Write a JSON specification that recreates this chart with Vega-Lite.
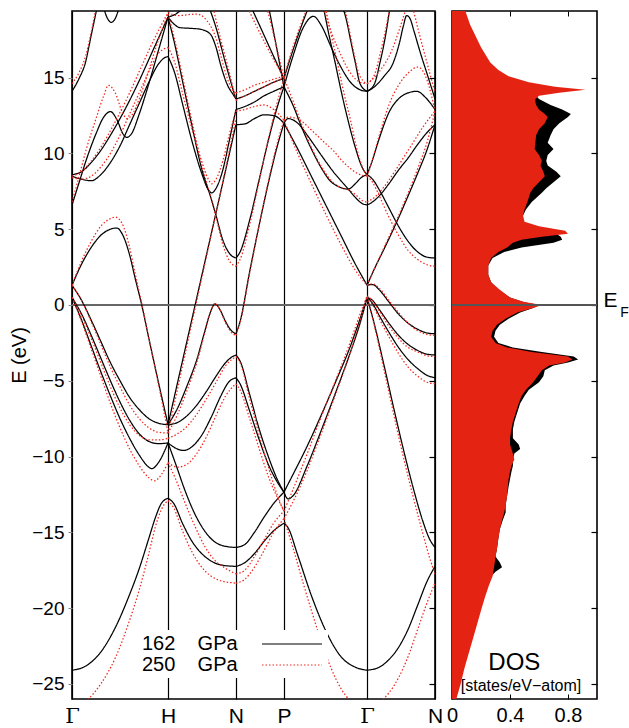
{
  "$schema": "https://vega.github.io/schema/vega-lite/v6.json",
  "background": "white",
  "padding": {"left": 8, "top": 9, "right": 0, "bottom": 0},
  "spacing": 1,
  "config": {
    "font": "Liberation Sans",
    "view": {"stroke": "black", "strokeWidth": 1.6},
    "axis": {"labelColor": "black", "titleColor": "black", "labelFont": "Liberation Sans", "titleFont": "Liberation Sans"}
  },
  "datasets": {
    "bands": [
      {"b": "A1", "p": "162 GPa", "k": [0,0.15,0.3,0.45,0.6,0.7,0.8,0.87,0.93,1], "e": [-24.1,-23.8,-22.9,-21.3,-19.1,-17.4,-15.4,-14.0,-13.1,-12.75]},
      {"b": "L1", "p": "162 GPa", "k": [0,0.1,0.2,0.3,0.4,0.5,0.6,0.7,0.8,0.9,1], "e": [1.3,0.3,-1.0,-2.4,-3.8,-5.0,-6.1,-6.9,-7.5,-7.8,-7.9]},
      {"b": "L2", "p": "162 GPa", "k": [0,0.1,0.2,0.3,0.4,0.5,0.6,0.7,0.8,0.9,1], "e": [0.5,-0.6,-2.0,-3.5,-5.0,-6.4,-7.6,-8.5,-9.0,-9.15,-9.1]},
      {"b": "L3", "p": "162 GPa", "k": [0,0.1,0.2,0.3,0.4,0.5,0.6,0.7,0.8,0.83,0.9,1], "e": [0.5,-1.0,-2.7,-4.4,-6.0,-7.5,-8.8,-9.9,-10.7,-10.8,-10.4,-9.1]},
      {"b": "W", "p": "162 GPa", "k": [0,0.1,0.2,0.3,0.4,0.465,0.53,0.6,0.66,0.726,0.8,0.9,1], "e": [1.3,2.7,3.8,4.6,5.0,5.08,4.6,3.3,1.7,0,-2.2,-5.1,-7.9]},
      {"b": "P", "p": "162 GPa", "k": [0,0.07,0.15,0.25,0.33,0.4,0.47,0.53,0.57,0.62,0.7,0.8,0.9,1], "e": [6.6,8.0,9.6,11.3,12.4,12.76,12.2,11.3,11.06,11.3,12.6,14.6,16.8,19.0]},
      {"b": "Q", "p": "162 GPa", "k": [0,0.1,0.2,0.3,0.4,0.5,0.6,0.7,0.8,0.9,0.96,1], "e": [8.5,8.3,8.2,8.6,9.4,10.5,11.9,13.3,14.7,15.9,16.3,16.4]},
      {"b": "R", "p": "162 GPa", "k": [0,0.1,0.2,0.3,0.4,0.5,0.6,0.7,0.8,0.9,1], "e": [8.6,8.8,9.4,10.2,11.2,12.3,13.5,14.8,16.2,17.6,19.0]},
      {"b": "S", "p": "162 GPa", "k": [0,0.07,0.14,0.2,0.26], "e": [14.1,14.9,16.0,17.8,19.6]},
      {"b": "T", "p": "162 GPa", "k": [0.33,0.37,0.41,0.45,0.49], "e": [19.6,18.9,18.65,18.9,19.6]},
      {"b": "HA", "p": "162 GPa", "k": [1,1.06,1.15,1.25,1.35,1.45,1.55,1.707], "e": [-12.75,-13.1,-14.4,-15.6,-16.4,-16.9,-17.15,-17.25]},
      {"b": "HB", "p": "162 GPa", "k": [1,1.08,1.18,1.28,1.38,1.48,1.58,1.707], "e": [-9.1,-10.5,-12.3,-13.8,-14.9,-15.6,-15.9,-16.0]},
      {"b": "HC", "p": "162 GPa", "k": [1,1.08,1.16,1.25,1.35,1.45,1.55,1.63,1.707], "e": [-9.1,-9.45,-9.6,-9.35,-8.6,-7.4,-6.0,-5.1,-4.8]},
      {"b": "HD", "p": "162 GPa", "k": [1,1.1,1.2,1.3,1.4,1.5,1.6,1.66,1.707], "e": [-7.9,-7.75,-7.3,-6.6,-5.7,-4.7,-3.8,-3.45,-3.3]},
      {"b": "HK", "p": "162 GPa", "k": [1,1.1,1.2,1.3,1.38,1.44,1.49,1.54,1.6,1.66,1.707], "e": [-7.9,-6.8,-5.3,-3.6,-1.8,-0.5,0.07,-0.3,-1.1,-1.7,-1.9]},
      {"b": "HE", "p": "162 GPa", "k": [1,1.2,1.4,1.6,1.707], "e": [-7.9,-2.3,3.3,8.9,11.9]},
      {"b": "HF", "p": "162 GPa", "k": [1,1.07,1.15,1.25,1.35,1.45,1.5,1.57,1.64,1.707], "e": [19.0,17.2,14.8,11.8,9.0,7.0,5.9,4.3,3.4,3.1]},
      {"b": "HG", "p": "162 GPa", "k": [1,1.07,1.15,1.25,1.35,1.42,1.455,1.5,1.57,1.64,1.707], "e": [16.4,15.3,13.3,10.8,8.7,7.6,7.4,7.7,8.9,10.9,12.9]},
      {"b": "HU1", "p": "162 GPa", "k": [1,1.06,1.125,1.25,1.333,1.437,1.5,1.55,1.62,1.677,1.707], "e": [19.0,18.55,18.3,18.25,18.2,17.9,17.0,15.8,14.5,13.9,13.6]},
      {"b": "HU3", "p": "162 GPa", "k": [1.43,1.5,1.58,1.65,1.707], "e": [19.6,18.3,16.4,14.8,13.6]},
      {"b": "HU4", "p": "162 GPa", "k": [1,1.08,1.16], "e": [19.0,19.2,19.6]},
      {"b": "NP1", "p": "162 GPa", "k": [1.707,1.8,1.9,2.0,2.1,2.207], "e": [-16.0,-15.8,-15.0,-14.0,-13.1,-12.35]},
      {"b": "NP2", "p": "162 GPa", "k": [1.707,1.8,1.9,2.0,2.1,2.207], "e": [-17.25,-17.0,-16.4,-15.6,-14.9,-14.4]},
      {"b": "NP3", "p": "162 GPa", "k": [1.707,1.75,1.85,1.95,2.05,2.13,2.207], "e": [-3.3,-3.7,-5.9,-8.2,-10.1,-11.4,-12.35]},
      {"b": "NP4", "p": "162 GPa", "k": [1.707,1.75,1.85,1.95,2.05,2.13,2.207], "e": [-4.8,-5.2,-7.0,-8.9,-10.6,-11.6,-12.35]},
      {"b": "NP5", "p": "162 GPa", "k": [1.707,1.75,1.85,1.95,2.05,2.13,2.207], "e": [-1.9,-1.1,2.2,5.3,8.2,10.3,12.0]},
      {"b": "NP6", "p": "162 GPa", "k": [1.707,1.75,1.85,1.95,2.05,2.13,2.207], "e": [3.1,3.5,5.6,8.3,11.0,12.9,14.4]},
      {"b": "NP7", "p": "162 GPa", "k": [1.707,1.8,1.9,2.0,2.1,2.207], "e": [11.9,11.95,12.3,12.55,12.5,12.0]},
      {"b": "NP8", "p": "162 GPa", "k": [1.707,1.8,1.9,2.0,2.1,2.207], "e": [12.9,13.1,13.4,13.8,14.1,14.4]},
      {"b": "NP9", "p": "162 GPa", "k": [1.707,1.8,1.9,2.0,2.1,2.207], "e": [13.6,13.8,14.1,14.4,14.7,14.95]},
      {"b": "NP10", "p": "162 GPa", "k": [1.87,2.0,2.1,2.207], "e": [19.6,17.8,16.4,14.95]},
      {"b": "NP11", "p": "162 GPa", "k": [2.05,2.13,2.207], "e": [19.6,17.0,14.4]},
      {"b": "PG1", "p": "162 GPa", "k": [2.207,2.25,2.35,2.45,2.55,2.65,2.72,2.8,2.877,2.95,3.02,3.073], "e": [12.0,12.3,12.0,11.2,10.3,9.4,8.8,8.2,7.65,7.1,6.7,6.6]},
      {"b": "PG2", "p": "162 GPa", "k": [2.207,2.3,2.4,2.5,2.6,2.687,2.78,2.877,2.95,3.02,3.073], "e": [14.4,13.2,11.6,10.2,9.0,8.2,7.8,7.65,8.0,8.45,8.6]},
      {"b": "PG3", "p": "162 GPa", "k": [2.62,2.68,2.74,2.8,2.87,2.95,3.02,3.073], "e": [19.6,17.7,16.0,14.2,12.3,10.4,9.1,8.6]},
      {"b": "PGs", "p": "162 GPa", "k": [2.207,2.35,2.5,2.65,2.8,2.95,3.073], "e": [12.0,10.3,8.4,6.5,4.6,2.7,1.3]},
      {"b": "M", "p": "162 GPa", "k": [2.207,2.3,2.4,2.47,2.513,2.6,2.7,2.8,2.9,3.0,3.073], "e": [14.4,16.4,18.2,18.9,19.05,18.4,17.0,15.7,14.7,14.2,14.1]},
      {"b": "M2", "p": "162 GPa", "k": [2.207,2.3,2.4,2.46], "e": [14.95,16.8,18.6,19.6]},
      {"b": "M3", "p": "162 GPa", "k": [2.82,2.85,2.9,2.95,3.0,3.073], "e": [19.6,19.0,17.5,16.0,14.6,14.1]},
      {"b": "PGL1", "p": "162 GPa", "k": [2.207,2.3,2.45,2.6,2.75,2.9,3.0,3.073], "e": [-12.35,-11.2,-9.3,-7.2,-5.0,-2.7,-0.9,0.5]},
      {"b": "PGL2", "p": "162 GPa", "k": [2.207,2.25,2.3,2.45,2.6,2.75,2.9,3.0,3.073], "e": [-12.35,-12.8,-12.6,-10.6,-8.2,-5.7,-3.1,-1.2,0.5]},
      {"b": "PGA", "p": "162 GPa", "k": [2.207,2.25,2.35,2.5,2.65,2.8,2.95,3.073], "e": [-14.4,-14.7,-16.5,-19.3,-21.6,-23.2,-23.9,-24.1]},
      {"b": "GNA", "p": "162 GPa", "k": [3.073,3.2,3.3,3.4,3.5,3.6,3.7,3.78], "e": [-24.1,-23.9,-23.4,-22.6,-21.4,-19.8,-18.2,-17.25]},
      {"b": "GNS", "p": "162 GPa", "k": [3.073,3.15,3.25,3.35,3.45,3.55,3.65,3.72,3.78], "e": [0.5,-1.3,-4.0,-6.8,-9.5,-12.0,-14.2,-15.4,-16.0]},
      {"b": "GN1", "p": "162 GPa", "k": [3.073,3.13,3.2,3.3,3.4,3.5,3.6,3.7,3.78], "e": [1.3,1.35,1.0,0.2,-0.6,-1.2,-1.6,-1.85,-1.9]},
      {"b": "GN2", "p": "162 GPa", "k": [3.073,3.13,3.2,3.3,3.4,3.5,3.6,3.7,3.78], "e": [0.5,0.3,-0.3,-1.2,-2.0,-2.6,-3.0,-3.25,-3.3]},
      {"b": "GN3", "p": "162 GPa", "k": [3.073,3.13,3.2,3.3,3.4,3.5,3.6,3.7,3.78], "e": [0.5,0.1,-0.7,-1.8,-2.8,-3.6,-4.2,-4.65,-4.8]},
      {"b": "G1", "p": "162 GPa", "k": [3.073,3.12,3.2,3.3,3.4,3.5,3.59,3.68,3.78], "e": [8.6,9.4,11.0,12.7,13.6,14.0,14.1,13.7,12.9]},
      {"b": "G2", "p": "162 GPa", "k": [3.073,3.13,3.2,3.3,3.4,3.5,3.6,3.7,3.78], "e": [6.6,6.8,7.2,8.0,8.9,9.7,10.6,11.4,11.9]},
      {"b": "G3", "p": "162 GPa", "k": [3.073,3.13,3.2,3.3,3.4,3.5,3.6,3.7,3.78], "e": [8.6,8.3,7.6,6.4,5.2,4.2,3.5,3.15,3.1]},
      {"b": "G4", "p": "162 GPa", "k": [3.073,3.15,3.25,3.38,3.5,3.6,3.7,3.78], "e": [1.3,2.4,3.7,5.46,7.2,8.7,10.3,11.9]},
      {"b": "Q1", "p": "162 GPa", "k": [3.073,3.15,3.207,3.26,3.31], "e": [14.1,14.6,16.0,17.6,19.6]},
      {"b": "Q23", "p": "162 GPa", "k": [3.073,3.15,3.25,3.346,3.41,3.45,3.485,3.52,3.56,3.62,3.7,3.78], "e": [14.1,14.4,15.1,16.0,17.3,18.4,19.1,18.9,18.1,16.8,15.2,13.6]},

      {"b": "A1r", "p": "250 GPa", "k": [0,0.15,0.3,0.45,0.6,0.7,0.8,0.87,0.93,1], "e": [-26.5,-26.1,-25.0,-23.3,-20.8,-18.8,-16.4,-14.6,-13.5,-12.9]},
      {"b": "L1r", "p": "250 GPa", "k": [0,0.1,0.2,0.3,0.4,0.5,0.6,0.7,0.8,0.9,1], "e": [1.3,0.3,-1.1,-2.6,-4.1,-5.4,-6.6,-7.5,-8.1,-8.4,-8.45]},
      {"b": "L2r", "p": "250 GPa", "k": [0,0.1,0.2,0.3,0.4,0.5,0.6,0.7,0.8,0.9,1], "e": [0.5,-0.7,-2.2,-3.8,-5.4,-6.8,-7.9,-8.6,-8.9,-8.9,-8.8]},
      {"b": "L3r", "p": "250 GPa", "k": [0,0.1,0.2,0.3,0.4,0.5,0.6,0.7,0.8,0.86,0.93,1], "e": [0.5,-1.1,-2.9,-4.7,-6.5,-8.1,-9.5,-10.6,-11.4,-11.6,-11.2,-10.4]},
      {"b": "Wr", "p": "250 GPa", "k": [0,0.1,0.2,0.3,0.4,0.45,0.52,0.6,0.66,0.73,0.8,0.9,1], "e": [1.3,2.9,4.2,5.2,5.7,5.8,5.4,3.8,2.0,0,-2.2,-5.2,-8.45]},
      {"b": "Pr", "p": "250 GPa", "k": [0,0.07,0.15,0.25,0.33,0.38,0.45,0.52,0.57,0.62,0.7,0.8,0.9,1], "e": [6.8,8.4,10.3,12.3,13.8,14.5,14.0,12.8,12.3,12.5,13.6,15.5,17.5,19.2]},
      {"b": "Qr", "p": "250 GPa", "k": [0,0.1,0.2,0.3,0.4,0.5,0.6,0.7,0.8,0.9,1], "e": [8.4,8.3,8.5,9.1,10.0,11.2,12.6,14.0,15.4,16.6,17.0]},
      {"b": "Rr", "p": "250 GPa", "k": [0,0.1,0.2,0.3,0.4,0.5,0.6,0.7,0.8,0.9,1], "e": [8.5,8.8,9.5,10.4,11.5,12.7,14.0,15.4,16.8,18.1,19.3]},
      {"b": "Sr", "p": "250 GPa", "k": [0,0.07,0.14,0.2,0.25], "e": [14.6,15.3,16.4,18.0,19.6]},
      {"b": "HAr", "p": "250 GPa", "k": [1,1.06,1.15,1.25,1.35,1.45,1.55,1.707], "e": [-12.9,-13.4,-14.9,-16.3,-17.3,-17.9,-18.2,-18.35]},
      {"b": "HBr", "p": "250 GPa", "k": [1,1.08,1.18,1.28,1.38,1.48,1.58,1.707], "e": [-10.4,-11.5,-13.1,-14.6,-15.9,-16.8,-17.3,-17.75]},
      {"b": "HCr", "p": "250 GPa", "k": [1,1.1,1.2,1.3,1.4,1.5,1.6,1.707], "e": [-10.4,-10.7,-10.5,-9.8,-8.7,-7.3,-6.0,-5.2]},
      {"b": "HDr", "p": "250 GPa", "k": [1,1.1,1.2,1.3,1.4,1.5,1.6,1.707], "e": [-8.8,-8.5,-8.0,-7.2,-6.2,-5.1,-4.0,-3.4]},
      {"b": "HKr", "p": "250 GPa", "k": [1,1.1,1.2,1.3,1.38,1.44,1.49,1.54,1.6,1.66,1.707], "e": [-8.45,-7.2,-5.6,-3.8,-1.9,-0.5,0.1,-0.3,-1.2,-1.8,-2.0]},
      {"b": "HEr", "p": "250 GPa", "k": [1,1.2,1.4,1.6,1.707], "e": [-8.45,-2.6,3.2,9.0,12.3]},
      {"b": "HFr", "p": "250 GPa", "k": [1,1.07,1.15,1.25,1.35,1.45,1.5,1.57,1.64,1.707], "e": [19.2,17.5,15.1,12.1,9.3,7.0,5.8,4.0,2.9,2.55]},
      {"b": "HGr", "p": "250 GPa", "k": [1,1.07,1.15,1.25,1.35,1.42,1.455,1.5,1.57,1.64,1.707], "e": [17.0,16.0,14.0,11.6,9.5,8.3,8.0,8.3,9.5,11.3,12.8]},
      {"b": "HU1r", "p": "250 GPa", "k": [1,1.1,1.3,1.4,1.5,1.56,1.62,1.67,1.707], "e": [19.3,19.1,19.2,18.8,17.6,16.2,14.9,14.2,14.0]},
      {"b": "HU3r", "p": "250 GPa", "k": [1.47,1.55,1.62,1.707], "e": [19.6,17.5,15.8,13.5]},
      {"b": "NP1r", "p": "250 GPa", "k": [1.707,1.8,1.9,2.0,2.1,2.207], "e": [-17.75,-17.5,-16.6,-15.5,-14.4,-13.6]},
      {"b": "NP2r", "p": "250 GPa", "k": [1.707,1.8,1.9,2.0,2.1,2.207], "e": [-18.35,-18.1,-17.3,-16.2,-15.0,-14.1]},
      {"b": "NP3r", "p": "250 GPa", "k": [1.707,1.75,1.85,1.95,2.05,2.13,2.207], "e": [-3.4,-3.8,-6.2,-8.6,-10.8,-12.4,-13.6]},
      {"b": "NP4r", "p": "250 GPa", "k": [1.707,1.75,1.85,1.95,2.05,2.13,2.207], "e": [-5.2,-5.6,-7.5,-9.5,-11.4,-12.6,-13.6]},
      {"b": "NP5r", "p": "250 GPa", "k": [1.707,1.75,1.85,1.95,2.05,2.13,2.207], "e": [-2.0,-1.2,2.1,5.3,8.3,10.5,12.2]},
      {"b": "NP6r", "p": "250 GPa", "k": [1.707,1.75,1.85,1.95,2.05,2.13,2.207], "e": [2.55,3.0,5.3,8.2,11.1,13.2,14.9]},
      {"b": "NP7r", "p": "250 GPa", "k": [1.707,1.8,1.9,2.0,2.1,2.207], "e": [12.8,12.9,13.1,13.2,12.9,12.2]},
      {"b": "NP8r", "p": "250 GPa", "k": [1.707,1.8,1.9,2.0,2.1,2.207], "e": [13.5,13.8,14.1,14.4,14.7,15.0]},
      {"b": "NP9r", "p": "250 GPa", "k": [1.707,1.8,1.9,2.0,2.1,2.207], "e": [14.0,14.2,14.5,14.7,14.9,15.1]},
      {"b": "NP10r", "p": "250 GPa", "k": [1.83,2.0,2.1,2.207], "e": [19.6,17.4,16.2,15.0]},
      {"b": "NP11r", "p": "250 GPa", "k": [2.03,2.12,2.207], "e": [19.6,17.3,15.0]},
      {"b": "PG1r", "p": "250 GPa", "k": [2.207,2.25,2.35,2.45,2.55,2.65,2.72,2.8,2.9,3.0,3.073], "e": [12.2,12.4,12.3,11.8,11.2,10.6,10.2,9.6,9.0,8.6,8.5]},
      {"b": "PG2r", "p": "250 GPa", "k": [2.207,2.3,2.4,2.5,2.6,2.687,2.78,2.877,2.95,3.02,3.073], "e": [15.0,13.5,11.8,10.3,9.1,8.3,7.8,7.6,7.3,6.9,6.8]},
      {"b": "PG3r", "p": "250 GPa", "k": [2.64,2.7,2.76,2.82,2.9,2.97,3.03,3.073], "e": [19.6,17.8,16.1,14.3,12.2,10.2,9.0,8.5]},
      {"b": "PGsr", "p": "250 GPa", "k": [2.207,2.35,2.5,2.65,2.8,2.95,3.073], "e": [12.2,10.0,7.9,5.9,4.0,2.3,1.3]},
      {"b": "Mr", "p": "250 GPa", "k": [2.207,2.3,2.4,2.45], "e": [15.0,17.0,18.8,19.6]},
      {"b": "Mr2", "p": "250 GPa", "k": [2.62,2.7,2.8,2.9,3.0,3.073], "e": [19.6,18.0,16.5,15.3,14.7,14.6]},
      {"b": "M3r", "p": "250 GPa", "k": [2.84,2.88,2.93,2.98,3.03,3.073], "e": [19.6,18.4,16.8,15.4,14.8,14.6]},
      {"b": "PGL1r", "p": "250 GPa", "k": [2.207,2.3,2.45,2.6,2.75,2.9,3.0,3.073], "e": [-13.6,-12.2,-9.8,-7.3,-4.9,-2.4,-0.6,0.6]},
      {"b": "PGL2r", "p": "250 GPa", "k": [2.207,2.3,2.45,2.6,2.75,2.9,3.0,3.073], "e": [-14.1,-13.0,-10.9,-8.4,-5.8,-3.1,-1.1,0.5]},
      {"b": "PGAr", "p": "250 GPa", "k": [2.207,2.3,2.4,2.5,2.6,2.7,2.8,2.9,3.073], "e": [-14.1,-16.0,-18.2,-20.3,-22.3,-24.0,-25.3,-26.1,-26.5]},
      {"b": "GNAr", "p": "250 GPa", "k": [3.073,3.2,3.3,3.4,3.5,3.6,3.7,3.78], "e": [-26.5,-26.2,-25.6,-24.6,-23.2,-21.4,-19.6,-18.35]},
      {"b": "GNSr", "p": "250 GPa", "k": [3.073,3.15,3.25,3.35,3.45,3.55,3.65,3.72,3.78], "e": [0.5,-1.4,-4.3,-7.2,-10.0,-12.6,-15.0,-16.6,-17.75]},
      {"b": "GN1r", "p": "250 GPa", "k": [3.073,3.13,3.2,3.3,3.4,3.5,3.6,3.7,3.78], "e": [1.3,1.4,1.1,0.3,-0.5,-1.2,-1.7,-1.95,-2.0]},
      {"b": "GN2r", "p": "250 GPa", "k": [3.073,3.13,3.2,3.3,3.4,3.5,3.6,3.7,3.78], "e": [0.6,0.3,-0.4,-1.4,-2.2,-2.8,-3.1,-3.35,-3.4]},
      {"b": "GN3r", "p": "250 GPa", "k": [3.073,3.13,3.2,3.3,3.4,3.5,3.6,3.7,3.78], "e": [0.5,0.0,-0.9,-2.1,-3.2,-4.1,-4.7,-5.1,-5.2]},
      {"b": "G1r", "p": "250 GPa", "k": [3.073,3.12,3.2,3.3,3.4,3.5,3.6,3.7,3.78], "e": [8.5,9.4,11.2,13.2,14.5,15.3,15.7,14.8,12.8]},
      {"b": "G2r", "p": "250 GPa", "k": [3.073,3.15,3.25,3.35,3.45,3.55,3.65,3.78], "e": [6.8,7.1,7.8,8.7,9.7,10.7,11.7,12.8]},
      {"b": "G3r", "p": "250 GPa", "k": [3.073,3.13,3.2,3.3,3.4,3.5,3.6,3.7,3.78], "e": [8.5,8.1,7.2,5.8,4.6,3.6,3.0,2.65,2.55]},
      {"b": "G4r", "p": "250 GPa", "k": [3.073,3.15,3.25,3.38,3.5,3.6,3.7,3.78], "e": [1.3,2.4,3.8,5.6,7.4,9.0,10.8,12.8]},
      {"b": "Q1r", "p": "250 GPa", "k": [3.073,3.15,3.21,3.27,3.31], "e": [14.6,15.2,16.6,18.3,19.6]},
      {"b": "Q2r", "p": "250 GPa", "k": [3.073,3.2,3.33,3.42,3.48], "e": [14.6,15.4,16.8,18.4,19.6]},
      {"b": "Q3r", "p": "250 GPa", "k": [3.55,3.62,3.7,3.78], "e": [19.6,17.8,15.9,14.0]}
    ],
    "dos": [
      {"e": -26.0, "a": 0, "r": 0.03},
      {"e": -25.0, "a": 0, "r": 0.06},
      {"e": -24.2, "a": 0, "r": 0.08},
      {"e": -24.0, "a": 0.04, "r": 0.085},
      {"e": -23.0, "a": 0.10, "r": 0.115},
      {"e": -22.0, "a": 0.13, "r": 0.145},
      {"e": -21.0, "a": 0.16, "r": 0.175},
      {"e": -20.0, "a": 0.19, "r": 0.205},
      {"e": -19.2, "a": 0.21, "r": 0.23},
      {"e": -18.5, "a": 0.24, "r": 0.255},
      {"e": -17.9, "a": 0.27, "r": 0.28},
      {"e": -17.6, "a": 0.30, "r": 0.285},
      {"e": -17.3, "a": 0.345, "r": 0.29},
      {"e": -17.0, "a": 0.33, "r": 0.295},
      {"e": -16.6, "a": 0.30, "r": 0.30},
      {"e": -16.1, "a": 0.31, "r": 0.31},
      {"e": -15.4, "a": 0.32, "r": 0.32},
      {"e": -14.8, "a": 0.33, "r": 0.33},
      {"e": -14.2, "a": 0.35, "r": 0.345},
      {"e": -13.7, "a": 0.37, "r": 0.36},
      {"e": -13.2, "a": 0.37, "r": 0.37},
      {"e": -12.6, "a": 0.38, "r": 0.38},
      {"e": -12.0, "a": 0.39, "r": 0.385},
      {"e": -11.5, "a": 0.40, "r": 0.39},
      {"e": -11.0, "a": 0.41, "r": 0.40},
      {"e": -10.6, "a": 0.42, "r": 0.41},
      {"e": -10.2, "a": 0.42, "r": 0.43},
      {"e": -9.8, "a": 0.43, "r": 0.42},
      {"e": -9.5, "a": 0.47, "r": 0.41},
      {"e": -9.2, "a": 0.46, "r": 0.40},
      {"e": -8.8, "a": 0.42, "r": 0.40},
      {"e": -8.2, "a": 0.42, "r": 0.41},
      {"e": -7.7, "a": 0.43, "r": 0.42},
      {"e": -7.1, "a": 0.45, "r": 0.44},
      {"e": -6.5, "a": 0.47, "r": 0.46},
      {"e": -6.0, "a": 0.50, "r": 0.48},
      {"e": -5.6, "a": 0.53, "r": 0.51},
      {"e": -5.1, "a": 0.60, "r": 0.56},
      {"e": -4.7, "a": 0.63, "r": 0.59},
      {"e": -4.3, "a": 0.64, "r": 0.62},
      {"e": -4.0, "a": 0.70, "r": 0.67},
      {"e": -3.8, "a": 0.80, "r": 0.78},
      {"e": -3.6, "a": 0.87, "r": 0.83},
      {"e": -3.4, "a": 0.84, "r": 0.80},
      {"e": -3.1, "a": 0.62, "r": 0.55},
      {"e": -2.8, "a": 0.42, "r": 0.38},
      {"e": -2.5, "a": 0.32, "r": 0.30},
      {"e": -2.1, "a": 0.29, "r": 0.27},
      {"e": -1.7, "a": 0.30, "r": 0.28},
      {"e": -1.3, "a": 0.33, "r": 0.31},
      {"e": -0.9, "a": 0.39, "r": 0.37},
      {"e": -0.5, "a": 0.47, "r": 0.45},
      {"e": -0.2, "a": 0.56, "r": 0.56},
      {"e": 0.0, "a": 0.60, "r": 0.62},
      {"e": 0.2, "a": 0.49, "r": 0.50},
      {"e": 0.5, "a": 0.40, "r": 0.40},
      {"e": 1.0, "a": 0.32, "r": 0.33},
      {"e": 1.5, "a": 0.27, "r": 0.27},
      {"e": 2.0, "a": 0.25, "r": 0.25},
      {"e": 2.6, "a": 0.25, "r": 0.25},
      {"e": 3.1, "a": 0.28, "r": 0.27},
      {"e": 3.5, "a": 0.36, "r": 0.32},
      {"e": 3.8, "a": 0.48, "r": 0.38},
      {"e": 4.1, "a": 0.70, "r": 0.42},
      {"e": 4.3, "a": 0.76, "r": 0.48},
      {"e": 4.5, "a": 0.75, "r": 0.62},
      {"e": 4.7, "a": 0.72, "r": 0.80},
      {"e": 4.9, "a": 0.62, "r": 0.78},
      {"e": 5.2, "a": 0.52, "r": 0.60},
      {"e": 5.5, "a": 0.48, "r": 0.50},
      {"e": 5.9, "a": 0.49, "r": 0.49},
      {"e": 6.3, "a": 0.51, "r": 0.50},
      {"e": 6.8, "a": 0.55, "r": 0.52},
      {"e": 7.4, "a": 0.62, "r": 0.54},
      {"e": 7.7, "a": 0.65, "r": 0.56},
      {"e": 8.1, "a": 0.70, "r": 0.60},
      {"e": 8.5, "a": 0.75, "r": 0.64},
      {"e": 8.8, "a": 0.72, "r": 0.63},
      {"e": 9.2, "a": 0.66, "r": 0.61},
      {"e": 9.5, "a": 0.65, "r": 0.62},
      {"e": 9.9, "a": 0.66, "r": 0.60},
      {"e": 10.3, "a": 0.70, "r": 0.57},
      {"e": 10.7, "a": 0.66, "r": 0.575},
      {"e": 11.2, "a": 0.68, "r": 0.58},
      {"e": 11.6, "a": 0.70, "r": 0.60},
      {"e": 12.0, "a": 0.74, "r": 0.64},
      {"e": 12.4, "a": 0.80, "r": 0.66},
      {"e": 12.6, "a": 0.82, "r": 0.64},
      {"e": 12.9, "a": 0.76, "r": 0.60},
      {"e": 13.2, "a": 0.68, "r": 0.58},
      {"e": 13.4, "a": 0.64, "r": 0.575},
      {"e": 13.6, "a": 0.60, "r": 0.575},
      {"e": 13.8, "a": 0.58, "r": 0.60},
      {"e": 14.0, "a": 0.56, "r": 0.74},
      {"e": 14.2, "a": 0.55, "r": 0.92},
      {"e": 14.4, "a": 0.52, "r": 0.71},
      {"e": 14.7, "a": 0.45, "r": 0.53},
      {"e": 15.1, "a": 0.35, "r": 0.39},
      {"e": 15.5, "a": 0.29, "r": 0.32},
      {"e": 16.0, "a": 0.24, "r": 0.264},
      {"e": 17.0, "a": 0.18, "r": 0.20},
      {"e": 17.8, "a": 0.14, "r": 0.16},
      {"e": 18.5, "a": 0.11, "r": 0.125},
      {"e": 19.4, "a": 0.08, "r": 0.092}
    ]
  },
  "hconcat": [
    {
      "width": 363,
      "height": 688,
      "layer": [
        {
          "data": {"values": [{}]},
          "mark": {"type": "rule", "color": "#666666", "strokeWidth": 2},
          "encoding": {
            "y": {"datum": 0, "type": "quantitative", "scale": {"domain": [-26, 19.4], "nice": false, "zero": false},
              "axis": {"orient": "right", "values": [-25,-20,-15,-10,-5,0,5,10,15], "labels": false, "tickSize": -6, "tickColor": "black", "tickWidth": 1.2, "title": null, "domain": false, "grid": false}}
          }
        },
        {
          "data": {"name": "bands"},
          "transform": [{"flatten": ["k", "e"]}],
          "mark": {"type": "line", "clip": true, "strokeWidth": 1.25, "interpolate": "monotone"},
          "encoding": {
            "x": {"field": "k", "type": "quantitative", "scale": {"domain": [0, 3.78], "nice": false, "zero": false},
              "axis": {"orient": "bottom", "values": [0, 1, 1.707, 2.207, 3.073, 3.78], "title": null, "grid": true, "gridColor": "black", "gridWidth": 1.2, "gridOpacity": 1, "ticks": false, "domain": false, "labelFlush": false, "labelFontSize": 21, "labelPadding": 6,
                "labelExpr": "datum.value < 0.5 ? 'Γ' : datum.value < 1.5 ? 'H' : datum.value < 2 ? 'N' : datum.value < 2.5 ? 'P' : datum.value < 3.5 ? 'Γ' : 'N'",
                "labelFont": {"condition": {"test": "datum.value < 0.5 || (datum.value > 2.5 && datum.value < 3.5)", "value": "DejaVu Serif"}, "value": "Liberation Sans"}}},
            "y": {"field": "e", "type": "quantitative", "scale": {"domain": [-26, 19.4], "nice": false, "zero": false},
              "axis": {"orient": "left", "values": [-25,-20,-15,-10,-5,0,5,10,15], "title": "E (eV)", "titleFontSize": 20, "titleFontWeight": "normal", "titlePadding": 2, "labelFontSize": 19, "labelPadding": 4, "tickSize": 4, "tickColor": "#888888", "domain": false, "grid": false}},
            "detail": {"field": "b"},
            "color": {"field": "p", "type": "nominal", "scale": {"domain": ["162 GPa", "250 GPa"], "range": ["#000000", "#f0281e"]},
              "legend": {"orient": "none", "legendX": 77, "legendY": 619, "title": null, "fillColor": "white", "padding": 3, "labelFontSize": 20, "symbolType": "M-3,0H3", "symbolSize": 400, "symbolStrokeWidth": 1.2, "symbolOffset": 129, "labelOffset": -161, "rowPadding": 0, "labelExpr": "replace(datum.label, ' ', '\u00a0\u00a0\u00a0\u00a0')"}},
            "strokeDash": {"field": "p", "type": "nominal", "scale": {"domain": ["162 GPa", "250 GPa"], "range": [[1, 0], [1.5, 2]]},
              "legend": {"orient": "none", "legendX": 77, "legendY": 619, "title": null, "fillColor": "white", "padding": 3, "labelFontSize": 20, "symbolType": "M-3,0H3", "symbolSize": 400, "symbolStrokeWidth": 1.2, "symbolOffset": 129, "labelOffset": -161, "rowPadding": 0, "labelExpr": "replace(datum.label, ' ', '\u00a0\u00a0\u00a0\u00a0')"}}
          }
        }
      ],
      "resolve": {"axis": {"y": "independent"}}
    },
    {
      "width": 145,
      "height": 688,
      "layer": [
        {
          "data": {"name": "dos"},
          "mark": {"type": "area", "orient": "horizontal", "color": "#000000"},
          "encoding": {
            "y": {"field": "e", "type": "quantitative", "scale": {"domain": [-26, 19.4], "nice": false, "zero": false},
              "axis": {"orient": "right", "values": [-25,-20,-15,-10,-5,0,5,10,15], "labels": false, "tickSize": -6, "tickColor": "black", "tickWidth": 1.2, "title": null, "domain": false, "grid": false}},
            "x": {"field": "a", "type": "quantitative", "scale": {"domain": [0, 1], "nice": false},
              "axis": {"orient": "bottom", "values": [0, 0.4, 0.8], "format": "~g", "title": null, "labelFontSize": 20, "labelFlush": false, "tickSize": -5, "tickColor": "black", "labelPadding": 11, "domain": false, "grid": false}}
          }
        },
        {
          "data": {"name": "dos"},
          "mark": {"type": "area", "orient": "horizontal", "color": "#e52313"},
          "encoding": {
            "y": {"field": "e", "type": "quantitative", "axis": null},
            "x": {"field": "r", "type": "quantitative",
              "axis": {"orient": "top", "values": [0.4, 0.8], "labels": false, "title": null, "tickSize": -5, "tickColor": "black", "domain": false, "grid": false}}
          }
        },
        {
          "data": {"values": [{}]},
          "mark": {"type": "rule", "color": "#555555", "strokeWidth": 2},
          "encoding": {"y": {"datum": 0, "type": "quantitative", "axis": null}}
        },
        {
          "data": {"values": [{}]},
          "mark": {"type": "text", "text": "DOS", "fontSize": 24, "align": "center", "baseline": "alphabetic", "color": "black"},
          "encoding": {"x": {"datum": 0.43, "type": "quantitative", "axis": null}, "y": {"datum": -24.1, "type": "quantitative", "axis": null}}
        },
        {
          "data": {"values": [{}]},
          "mark": {"type": "text", "text": "[states/eV−atom]", "fontSize": 16, "align": "center", "baseline": "alphabetic", "color": "black"},
          "encoding": {"x": {"datum": 0.476, "type": "quantitative", "axis": null}, "y": {"datum": -25.45, "type": "quantitative", "axis": null}}
        },
        {
          "data": {"values": [{}]},
          "mark": {"type": "text", "text": "E", "fontSize": 21, "align": "left", "baseline": "alphabetic", "color": "black", "clip": false},
          "encoding": {"x": {"datum": 1.045, "type": "quantitative", "axis": null}, "y": {"datum": -0.1, "type": "quantitative", "axis": null}}
        },
        {
          "data": {"values": [{}]},
          "mark": {"type": "text", "text": "F", "fontSize": 14, "align": "left", "baseline": "alphabetic", "color": "black", "clip": false},
          "encoding": {"x": {"datum": 1.16, "type": "quantitative", "axis": null}, "y": {"datum": -0.8, "type": "quantitative", "axis": null}}
        }
      ],
      "resolve": {"axis": {"x": "independent", "y": "independent"}}
    }
  ]
}
